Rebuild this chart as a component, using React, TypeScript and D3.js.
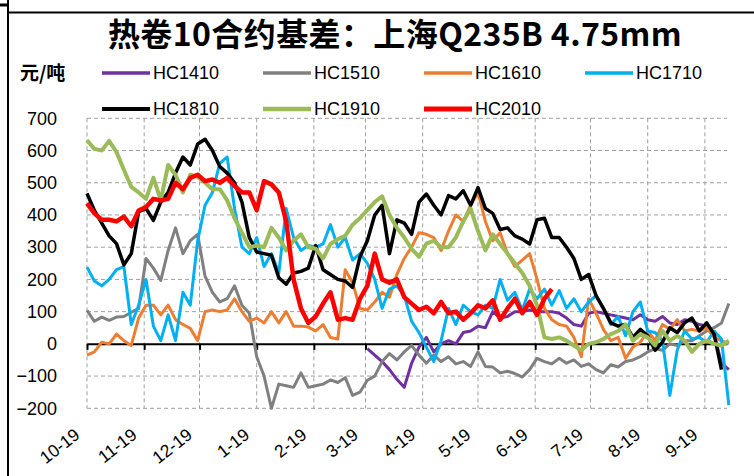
import { useEffect, useRef } from "react";
import * as d3 from "d3";

// samples every 4 days starting 2018-10-01 (season axis)
const seasonStart = new Date(2018, 9, 1);
const seasonEnd = new Date(2019, 8, 13);
const stepDays = 4;

const seriesNames = ["HC1410", "HC1510", "HC1610", "HC1710", "HC1810", "HC1910", "HC2010"];
const seriesColors = ["#7030A0", "#808080", "#ED7D31", "#00B0F0", "#000000", "#9BBB59", "#FF0000"];
const seriesWidths = [3, 3, 3, 3, 3.5, 4, 4.5];

const hc1410Offset = 38;
const hc1410 = [-15, -35, -55, -80, -110, -135, -60, -10, 20, -25, 0, 10, 0, 35, 40, 55, 50, 100, 80, 85,
  100, 100, 105, 100, 100, 100, 95, 80, 60, 55, 95, 100, 95, 90, 85, 80, 75, 90, 75, 70,
  85, 65, 60, 75, 70, 60, 55, 30, -60, -80];

const hc1510Offset = 0;
const hc1510 = [104, 70, 83, 73, 83, 85, 98, 110, 265, 235, 197, 290, 360, 280, 320, 340, 210, 160, 130, 140,
  180, 120, 95, -40, -100, -200, -125, -130, -135, -90, -135, -130, -125, -112, -120, -105, -160, -150, -113, -100,
  -55, -30, -50, -25, -5, -35, -60, -35, -55, -40, -62, -55, -70, -25, -70, -72, -90, -85, -92, -103,
  -80, -45, -55, -62, -45, -60, -50, -70, -62, -80, -90, -65, -72, -55, -50, -40, -25, -15, -20, 0,
  -5, 10, 10, 25, 40, 50, 65, 125];

const hc1610Offset = 0;
const hc1610 = [-35, -25, 5, 0, 30, 10, -5, 80, 120, 120, 90, 120, 75, 60, 48, 10, 100, 105, 100, 105,
  140, 100, 70, 80, 65, 100, 65, 100, 55, 55, 52, 40, 60, 20, 15, 230, 190, 110, 105, 130,
  160, 145, 215, 265, 300, 345, 340, 330, 290, 350, 400, 380, 430, 470, 380, 320, 345, 280, 240, 260,
  280, 200, 110, 75, 60, 55, 20, -40, 140, 95, 45, 10, 20, -45, -10, 5, 40, 10, 60, 45,
  75, 40, 45, 40, 50, 20, 10, 0];

const hc1710Offset = 0;
const hc1710 = [238, 195, 180, 200, 230, 240, 60, 120, 200, 55, 10, 90, 10, 160, 120, 320, 430, 470, 560, 580,
  420, 300, 280, 330, 240, 280, 220, 420, 330, 290, 305, 300, 310, 370, 300, 330, 260, 280, 250, 200,
  110, 170, 180, 150, 70, 35, -10, -55, 10, 110, 60, 120, 100, 90, 120, 110, 200, 135, 160, 105,
  170, 140, 170, 120, 165, 110, 140, 100, 130, 150, 110, 60, 85, 25, 100, 130, 40, 35, 10, -160,
  -20, 40, 15, 20, 5, 40, 15, -190];

const hc1810Offset = 0;
const hc1810 = [467, 414, 375, 335, 311, 245, 280, 410, 420, 383, 440, 470, 530, 580, 555, 620, 635, 600, 550, 530,
  500, 440, 330, 285, 280, 275, 205, 185, 220, 225, 235, 305, 230, 215, 200, 195, 175, 270, 320, 400,
  430, 280, 385, 375, 340, 440, 465, 430, 400, 460, 450, 475, 430, 485, 420, 405, 355, 360, 335, 325,
  310, 385, 390, 330, 330, 300, 265, 200, 215, 150, 110, 65, 55, 60, 20, 45, 25, -20, 5, 50,
  35, 65, 80, 40, 65, 30, -80];

const hc1910Offset = 0;
const hc1910 = [632, 605, 600, 630, 595, 540, 487, 470, 450, 515, 446, 555, 525, 470, 525, 518, 500, 480, 480, 445,
  390, 345, 300, 305, 300, 360, 330, 290, 320, 340, 300, 295, 265, 310, 325, 335, 370, 390, 415, 440,
  458, 400, 360, 330, 295, 270, 311, 320, 300, 300, 330, 380, 420, 350, 290, 340, 310, 280, 250, 220,
  180, 120, 20, 15, 20, 10, -5, -20, 0, 5, 15, 30, 40, 60, 10, 30, 20, -5, 40, 10,
  25, 10, -25, 0, 10, 0, -5, 10];

const hc2010Offset = 0;
const hc2010 = [436, 405, 385, 385, 380, 395, 365, 414, 425, 450, 445, 450, 500, 480, 515, 525, 505, 510, 500, 515,
  490, 470, 470, 415, 505, 495, 470, 380, 200, 110, 65, 85, 125, 160, 75, 80, 75, 140, 180, 280,
  200, 190, 200, 145, 125, 105, 115, 95, 130, 95, 100, 75, 95, 120, 110, 135, 75, 110, 140, 95,
  130, 90, 140, 170];

const seriesValues = [hc1410, hc1510, hc1610, hc1710, hc1810, hc1910, hc2010];
const seriesOffsets = [hc1410Offset, hc1510Offset, hc1610Offset, hc1710Offset, hc1810Offset, hc1910Offset, hc2010Offset];

const yTicks = [-200, -100, 0, 100, 200, 300, 400, 500, 600, 700];
const monthLabels = ["10-19", "11-19", "12-19", "1-19", "2-19", "3-19", "4-19", "5-19", "6-19", "7-19", "8-19", "9-19"];

const titleText = "热卷10合约基差：上海Q235B 4.75mm";
const unitText = "元/吨";

export default function App() {
  const ref = useRef(null);

  useEffect(() => {
    const svg = d3.select(ref.current);
    svg.selectAll("*").remove();

    const x = d3.scaleTime([seasonStart, seasonEnd], [87, 727]);
    const y = d3.scaleLinear([-200, 700], [408.3, 118.3]);
    const months = d3.timeMonth.range(seasonStart, new Date(2019, 8, 2));
    const latin = "'Liberation Sans', Arial, sans-serif";

    // frame of the cropped screenshot
    svg.append("line").attr("x1", 8).attr("x2", 8).attr("y1", 0).attr("y2", 476)
      .attr("stroke", "#000").attr("stroke-width", 2);
    svg.append("line").attr("x1", 8).attr("x2", 754).attr("y1", 12.5).attr("y2", 12.5)
      .attr("stroke", "#000").attr("stroke-width", 2);
    svg.append("line").attr("x1", 0).attr("x2", 7).attr("y1", 5).attr("y2", 5)
      .attr("stroke", "#000").attr("stroke-width", 3);

    // title + unit
    svg.append("text")
      .attr("x", 395).attr("y", 46)
      .attr("text-anchor", "middle")
      .attr("font-family", "'Noto Sans CJK SC', sans-serif")
      .attr("font-weight", 700)
      .attr("font-size", 32)
      .attr("letter-spacing", 0.4)
      .text(titleText);

    svg.append("text")
      .attr("x", 20).attr("y", 73).attr("dy", "0.35em")
      .attr("font-family", "'Noto Sans CJK SC', sans-serif")
      .attr("font-weight", 700)
      .attr("font-size", 19)
      .text(unitText);

    // legend
    const legend = svg.append("g");
    seriesNames.forEach((name, i) => {
      const lx = 102 + (i % 4) * 161;
      const ly = 73 + Math.floor(i / 4) * 36;
      legend.append("line")
        .attr("x1", lx).attr("x2", lx + 48).attr("y1", ly).attr("y2", ly)
        .attr("stroke", seriesColors[i]).attr("stroke-width", seriesWidths[i] + 0.5);
      legend.append("text")
        .attr("x", lx + 51).attr("y", ly).attr("dy", "0.35em")
        .attr("font-family", latin).attr("font-size", 18)
        .text(name);
    });

    // grid
    svg.append("g")
      .selectAll("line")
      .data(yTicks.filter(v => v !== 0))
      .join("line")
      .attr("x1", 87).attr("x2", 727)
      .attr("y1", d => y(d)).attr("y2", d => y(d))
      .attr("stroke", "#A0A0A0").attr("stroke-dasharray", "4,3");

    svg.append("g")
      .selectAll("line")
      .data(months)
      .join("line")
      .attr("x1", d => x(d)).attr("x2", d => x(d))
      .attr("y1", y(700)).attr("y2", y(-200))
      .attr("stroke", "#A0A0A0").attr("stroke-dasharray", "4,3");

    // y labels
    svg.append("g")
      .selectAll("text")
      .data(yTicks)
      .join("text")
      .attr("x", 57).attr("y", d => y(d)).attr("dy", "0.35em")
      .attr("text-anchor", "end")
      .attr("font-family", latin).attr("font-size", 18)
      .text(d => d3.format("d")(d));

    // zero axis
    svg.append("g")
      .attr("transform", `translate(0,${y(0)})`)
      .call(d3.axisBottom(x).tickValues(months).tickSizeInner(6).tickSizeOuter(0).tickFormat(() => ""))
      .call(g => g.select(".domain").attr("stroke", "#000").attr("stroke-width", 2))
      .call(g => g.selectAll(".tick line").attr("stroke", "#000").attr("stroke-width", 2));

    // x labels
    svg.append("g")
      .selectAll("text")
      .data(months)
      .join("text")
      .attr("transform", d => `translate(${x(d) - 6},437) rotate(-38)`)
      .attr("text-anchor", "end")
      .attr("font-family", latin).attr("font-size", 17.5)
      .text((d, i) => monthLabels[i]);

    // series
    const line = d3.line()
      .x(d => x(d.date))
      .y(d => y(d.value));

    seriesValues.forEach((vals, i) => {
      const pts = vals.map((v, j) => ({
        date: d3.timeDay.offset(seasonStart, (seriesOffsets[i] + j) * stepDays),
        value: v
      }));
      svg.append("path")
        .attr("fill", "none")
        .attr("stroke", seriesColors[i])
        .attr("stroke-width", seriesWidths[i])
        .attr("stroke-linejoin", "round")
        .attr("d", line(pts));
    });
  }, []);

  return (
    <svg ref={ref} width={754} height={476}
      style={{ position: "absolute", left: 0, top: 0, background: "#fff" }} />
  );
}
